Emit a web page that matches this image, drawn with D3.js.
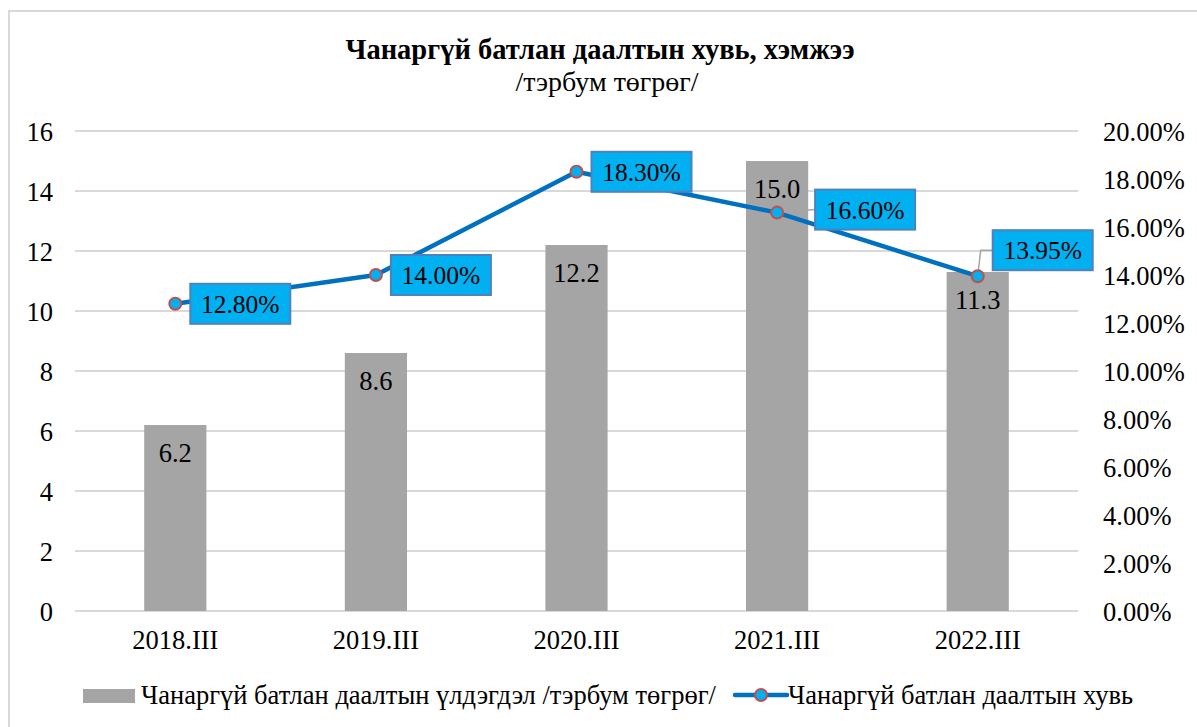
<!DOCTYPE html>
<html>
<head>
<meta charset="utf-8">
<script src="https://cdn.jsdelivr.net/npm/d3@7"></script>
<style>
  body { margin: 0; background: #fff; }
  text { font-family: "Liberation Serif", "Times New Roman", serif; fill: #000; }
</style>
</head>
<body>
<svg width="1197" height="727"></svg>
<script>
// chart data
var categories = ["2018.III", "2019.III", "2020.III", "2021.III", "2022.III"];
var balance = [6.2, 8.6, 12.2, 15.0, 11.3];          // тэрбум төгрөг
var share = [12.80, 14.00, 18.30, 16.60, 13.95];     // хувь
var leftTicks = [0, 2, 4, 6, 8, 10, 12, 14, 16];
var rightTicks = [0, 2, 4, 6, 8, 10, 12, 14, 16, 18, 20];
var barName = "Чанаргүй батлан даалтын үлдэгдэл /тэрбум төгрөг/";
var lineName = "Чанаргүй батлан даалтын хувь";

var svg = d3.select("svg"),
    margin = {top: 131, right: 119, bottom: 116, left: 75},
    width = +svg.attr("width") - margin.left - margin.right,
    height = +svg.attr("height") - margin.top - margin.bottom;

var fs = "26.5px";

// outer chart border (only top/left edges are visible in the original)
svg.append("path")
    .attr("d", "M9,727 V11 H1197")
    .attr("fill", "none")
    .attr("stroke", "#d9d9d9")
    .attr("stroke-width", 2);

// title
svg.append("text")
    .attr("x", 600).attr("y", 59)
    .attr("text-anchor", "middle")
    .style("font-size", "28.5px").style("font-weight", "bold")
    .text("Чанаргүй батлан даалтын хувь, хэмжээ");
svg.append("text")
    .attr("x", 607).attr("y", 91)
    .attr("text-anchor", "middle")
    .style("font-size", "28px")
    .text("/тэрбум төгрөг/");

var x = d3.scaleBand().domain(categories).range([0, width]).paddingInner(0.69).paddingOuter(0.345),
    y = d3.scaleLinear().domain([0, 16]).range([height, 0]),
    y2 = d3.scaleLinear().domain([0, 20]).range([height, 0]);

var g = svg.append("g")
    .attr("transform", "translate(" + margin.left + "," + margin.top + ")");

// gridlines
g.append("g")
    .selectAll("line")
    .data(leftTicks)
    .enter().append("line")
      .attr("x1", 0).attr("x2", width)
      .attr("y1", function(d) { return y(d); })
      .attr("y2", function(d) { return y(d); })
      .attr("stroke", "#d9d9d9").attr("stroke-width", 2);

// left axis
var yAxis = g.append("g")
    .call(d3.axisLeft(y).tickValues(leftTicks).tickSize(0).tickPadding(22));
yAxis.select(".domain").remove();
yAxis.selectAll("text").style("font-size", fs).attr("dy", "0.34em");

// right axis
var yAxis2 = g.append("g")
    .attr("transform", "translate(" + width + ",0)")
    .call(d3.axisRight(y2).tickValues(rightTicks).tickSize(0).tickPadding(25)
      .tickFormat(function(d) { return d.toFixed(2) + "%"; }));
yAxis2.select(".domain").remove();
yAxis2.selectAll("text").style("font-size", fs).attr("dy", "0.34em");

// x axis labels
var xAxis = g.append("g")
    .attr("transform", "translate(0," + height + ")")
    .call(d3.axisBottom(x).tickSize(0).tickPadding(19));
xAxis.select(".domain").remove();
xAxis.selectAll("text").style("font-size", fs);

// bars
var barData = categories.map(function(c, i) { return {cat: c, v: balance[i]}; });
g.selectAll(".bar")
    .data(barData)
    .enter().append("rect")
      .attr("class", "bar")
      .attr("x", function(d) { return x(d.cat); })
      .attr("y", function(d) { return y(d.v); })
      .attr("width", x.bandwidth())
      .attr("height", function(d) { return height - y(d.v); })
      .attr("fill", "#a5a5a5");

g.selectAll(".barlabel")
    .data(barData)
    .enter().append("text")
      .attr("class", "barlabel")
      .attr("x", function(d) { return x(d.cat) + x.bandwidth() / 2; })
      .attr("y", function(d) { return y(d.v) + 28; })
      .attr("dy", "0.35em")
      .attr("text-anchor", "middle")
      .style("font-size", fs)
      .text(function(d) { return d.v.toFixed(1); });

// line
var lineData = categories.map(function(c, i) {
  return {cat: c, v: share[i], px: x(c) + x.bandwidth() / 2, py: y2(share[i])};
});
g.append("path")
    .datum(lineData)
    .attr("fill", "none")
    .attr("stroke", "#0070c0")
    .attr("stroke-width", 4.5)
    .attr("stroke-linejoin", "round")
    .attr("d", d3.line().x(function(d) { return d.px; }).y(function(d) { return d.py; }));

// label box offsets (label placement only)
var boxDy = [0, 0, 0, -3, -26];
// leader lines for the last two labels
g.selectAll(".leader")
    .data(lineData.filter(function(d, i) { return i >= 3; }))
    .enter().append("polyline")
      .attr("class", "leader")
      .attr("fill", "none")
      .attr("stroke", "#a6a6a6")
      .attr("stroke-width", 1.5)
      .attr("points", function(d) {
        var i = lineData.indexOf(d);
        if (i === 4) return [d.px, d.py, d.px + 3, d.py - 26, d.px + 15, d.py - 26].join(",");
        return [d.px, d.py, d.px + 38, d.py - 3].join(",");
      });

g.selectAll(".dot")
    .data(lineData)
    .enter().append("circle")
      .attr("class", "dot")
      .attr("cx", function(d) { return d.px; })
      .attr("cy", function(d) { return d.py; })
      .attr("r", 6)
      .attr("fill", "#00b0f0")
      .attr("stroke", "#c0504d")
      .attr("stroke-width", 2);

var boxes = g.selectAll(".pbox")
    .data(lineData)
    .enter().append("g")
      .attr("class", "pbox")
      .attr("transform", function(d, i) {
        var dx = i === 3 ? 38 : 15;
        return "translate(" + (d.px + dx) + "," + (d.py + boxDy[i]) + ")";
      });
boxes.append("rect")
    .attr("x", 0).attr("y", -20)
    .attr("width", 100).attr("height", 40)
    .attr("fill", "#00b0f0")
    .attr("stroke", "#4f81bd")
    .attr("stroke-width", 2);
boxes.append("text")
    .attr("x", 50).attr("y", 0).attr("dy", "0.35em")
    .attr("text-anchor", "middle")
    .style("font-size", "25.5px")
    .text(function(d) { return d.v.toFixed(2) + "%"; });

// legend
var leg = svg.append("g");
leg.append("rect")
    .attr("x", 83).attr("y", 689).attr("width", 52).attr("height", 14)
    .attr("fill", "#a5a5a5");
leg.append("text")
    .attr("x", 141).attr("y", 704)
    .style("font-size", fs)
    .text(barName);
leg.append("line")
    .attr("x1", 735).attr("x2", 787).attr("y1", 695).attr("y2", 695)
    .attr("stroke", "#0070c0").attr("stroke-width", 4.5).attr("stroke-linecap", "round");
leg.append("circle")
    .attr("cx", 761).attr("cy", 695).attr("r", 6)
    .attr("fill", "#00b0f0").attr("stroke", "#c0504d").attr("stroke-width", 2);
leg.append("text")
    .attr("x", 788).attr("y", 704)
    .style("font-size", fs)
    .text(lineName);
</script>
</body>
</html>
